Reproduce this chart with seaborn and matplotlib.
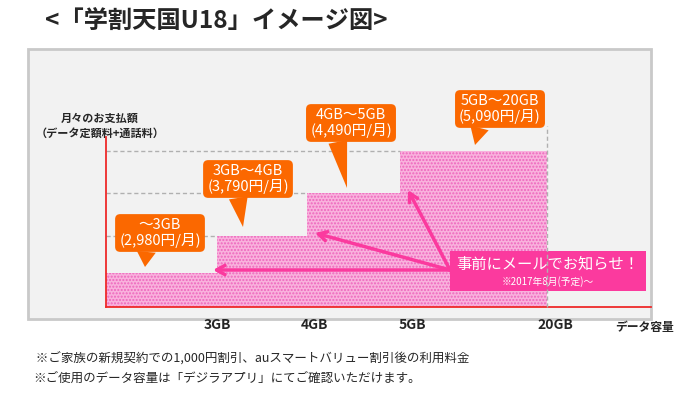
import numpy as np
import pandas as pd
import seaborn as sns
import matplotlib.pyplot as plt
from matplotlib.patches import Rectangle

# data
plans = ["～3GB", "3GB～4GB", "4GB～5GB", "5GB～20GB"]
prices = [2980, 3790, 4490, 5090]
cap_ticks = ["3GB", "4GB", "5GB", "20GB"]
# illustrative step sizes as drawn (chart is not to scale)
step_height = [34, 71, 114, 155.5]
step_width = [111, 90, 93, 147]

title = "<「学割天国U18」イメージ図>"
notes = [" ※ご家族の新規契約での1,000円割引、auスマートバリュー割引後の利用料金",
         "※ご使用のデータ容量は「デジラアプリ」にてご確認いただけます。"]

sns.set_style("white")
plt.rcParams['font.family'] = ['Noto Sans CJK JP', 'DejaVu Sans']

ORANGE = '#fb6800'
PINK = '#fb3a9e'
RED = '#ee2a2a'

fig = plt.figure(figsize=(7, 3.98), dpi=100)
W, H = 700, 398

# gray panel behind the chart
panel = Rectangle((28 / W, 1 - 319 / H), 623 / W, 270 / H, transform=fig.transFigure,
                  facecolor='#f2f2f2', edgecolor='#c9c9c9', lw=2, zorder=-5)
fig.add_artist(panel)

ax = fig.add_axes([106 / W, 1 - 307 / H, 545 / W, 170 / H])
ax.set_facecolor('none')

edges = [0] + list(np.cumsum(step_width))
df = pd.DataFrame({'pos': np.array(edges[:-1]) + np.array(step_width) / 2,
                   'height': step_height})

sns.histplot(data=df, x='pos', weights='height', bins=edges, ax=ax, stat='count',
             facecolor='#f9b2dd', edgecolor='#ee66bd', linewidth=0,
             hatch='.....', alpha=1)

ax.set_xlim(0, 545)
ax.set_ylim(0, 170)
ax.set_xlabel('')
ax.set_ylabel('')
ax.set_yticks([])
# labels sit a little right of each step edge in the original
ax.set_xticks(np.array(edges[1:]) + np.array([0, 7, 12, 8]))
ax.set_xticklabels(cap_ticks, fontweight='bold', fontsize=10)
ax.tick_params(axis='x', length=0, pad=8)
for s in ['top', 'right']:
    ax.spines[s].set_visible(False)
for s in ['left', 'bottom']:
    ax.spines[s].set_color(RED)
    ax.spines[s].set_linewidth(1.3)

# dashed guide lines at each step level
for i in range(1, 4):
    ax.hlines(step_height[i], 0, edges[i], colors='#b0b0b0', linestyles=(0, (3, 2)),
              lw=1, zorder=1)
ax.vlines(edges[-1], 0, 181, colors='#b0b0b0', linestyles=(0, (3, 2)), lw=1,
          zorder=6, clip_on=False)

# callouts
box_pos = [(54, 74), (142, 128), (245, 184), (394, 198)]
tip_pos = [(39, 40), (137, 80), (241, 119), (369, 162)]
rel = [(0.35, 0.4), (0.35, 0.4), (0.3, 0.4), (0.3, 0.4)]
for plan, price, bp, tp, rp in zip(plans, prices, box_pos, tip_pos, rel):
    ax.annotate(f"{plan}\n({price:,}円/月)", xy=tp, xytext=bp, ha='center', va='center',
                color='white', fontsize=10.5, linespacing=1.05, annotation_clip=False,
                bbox=dict(boxstyle='round,pad=0.28,rounding_size=0.35', fc=ORANGE, ec='none'),
                arrowprops=dict(arrowstyle='wedge,tail_width=1.3,shrink_factor=0.5',
                                fc=ORANGE, ec='none', relpos=rp, shrinkA=0, shrinkB=0),
                zorder=5)

# notice box and arrows
ax.add_patch(Rectangle((344, 16), 196, 40, facecolor=PINK, edgecolor='none', zorder=4))
ax.text(442, 43, "事前にメールでお知らせ！", ha='center', va='center', color='white',
        fontsize=11, zorder=5)
ax.text(442, 25, "※2017年8月(予定)～", ha='center', va='center', color='white',
        fontsize=7, zorder=5)
for i in range(3):
    tip = (edges[i + 1] - 4 + (i > 0) * 12, step_height[i] + 3)
    ax.annotate('', xy=tip, xytext=(344, 37),
                arrowprops=dict(arrowstyle='->,head_length=0.6,head_width=0.33',
                                color=PINK, lw=2.5, shrinkA=0, shrinkB=0),
                zorder=4)

# labels
fig.text(45 / W, 1 - 22 / H, title, ha='left', va='center', fontsize=17.5,
         fontweight='bold')
fig.text(100 / W, 1 - 126 / H, "月々のお支払額\n（データ定額料+通話料）", ha='center',
         va='center', fontsize=8, fontweight='bold', linespacing=1.15)
fig.text(645 / W, 1 - 328 / H, "データ容量", ha='center', va='center', fontsize=8.5,
         fontweight='bold')
fig.text(33 / W, 1 - 358 / H, notes[0], ha='left', va='center', fontsize=9)
fig.text(33 / W, 1 - 378 / H, notes[1], ha='left', va='center', fontsize=9)

fig.savefig('out.png', dpi=100)
